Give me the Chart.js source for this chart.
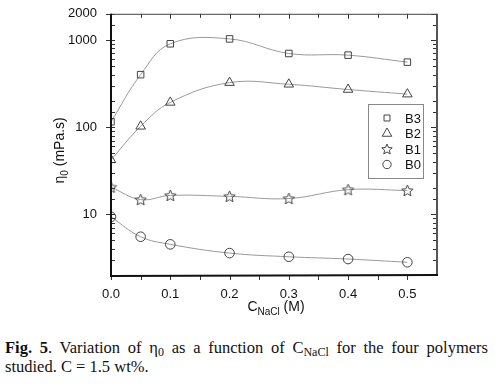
<!DOCTYPE html>
<html>
<head>
<meta charset="utf-8">
<script src="https://cdn.jsdelivr.net/npm/chart.js@4"></script>
<style>
  body { margin: 0; background: #fff; width: 495px; height: 386px; overflow: hidden; }
  #wrap { position: absolute; left: 0; top: 0; width: 495px; height: 320px; }
  #caption {
    position: absolute; left: 5px; top: 338px; width: 483px;
    font-family: "Liberation Serif", "Times New Roman", serif; font-size: 16.5px;
    line-height: 19px; color: #111;
  }
  #caption .l1 { text-align: justify; text-align-last: justify; white-space: nowrap; }
  #caption sub { font-size: 12px; vertical-align: -3px; line-height: 0; }
</style>
</head>
<body>
<div id="wrap"><canvas id="chart" width="495" height="320"></canvas></div>
<div id="caption"><div class="l1"><b>Fig. 5</b>. Variation of η<sub>0</sub> as a function of C<sub>NaCl</sub> for the four polymers</div><div>studied. C = 1.5 wt%.</div></div>
<script>
const conc = [0, 0.05, 0.1, 0.2, 0.3, 0.4, 0.5];
const b3 = [115, 400, 905, 1030, 700, 670, 557];
const b2 = [42, 102, 192, 324, 310, 270, 239];
const b1 = [20.4, 14.7, 16.4, 16.0, 15.1, 19.1, 18.7];
const b0 = [9.3, 5.5, 4.5, 3.57, 3.24, 3.05, 2.8];
const seriesNames = ['B3', 'B2', 'B1', 'B0'];
const xTicks = [0, 0.1, 0.2, 0.3, 0.4, 0.5];
const xMinor = [0.05, 0.15, 0.25, 0.35, 0.45];
const yLabels = [10, 100, 1000, 2000];

const markColor = '#444';
const lineColor = '#9a9a9a';

function starImage(r) {
  const c = document.createElement('canvas');
  const s = Math.ceil(r * 2 + 3);
  c.width = s; c.height = s;
  const g = c.getContext('2d');
  g.strokeStyle = markColor; g.lineWidth = 1;
  g.beginPath();
  for (let i = 0; i < 10; i++) {
    const rr = i % 2 === 0 ? r : r * 0.45;
    const a = -Math.PI / 2 + i * Math.PI / 5;
    const px = s / 2 + rr * Math.cos(a), py = s / 2 + 0.5 + rr * Math.sin(a);
    i === 0 ? g.moveTo(px, py) : g.lineTo(px, py);
  }
  g.closePath(); g.stroke();
  return c;
}
const starPlot = starImage(6);
const starLegend = starImage(5.5);

const styles = [
  { pointStyle: 'rect', radius: 4.6 },
  { pointStyle: 'triangle', radius: 5.5 },
  { pointStyle: starPlot, radius: 6 },
  { pointStyle: 'circle', radius: 4.8 }
];

function makeSet(label, values, st) {
  return {
    label,
    data: conc.map((x, i) => ({ x, y: values[i] })),
    borderColor: lineColor,
    borderWidth: 1,
    tension: 0.4,
    pointStyle: st.pointStyle,
    pointRadius: st.radius,
    pointHoverRadius: st.radius,
    pointBackgroundColor: 'rgba(0,0,0,0)',
    pointBorderColor: markColor,
    pointBorderWidth: 1,
    fill: false
  };
}

const frame = {
  id: 'frame',
  afterDraw(chart) {
    const { ctx, chartArea: a, scales: { x, y } } = chart;
    ctx.save();
    ctx.lineWidth = 1;
    ctx.strokeStyle = '#333';
    // x ticks
    xTicks.concat(xMinor).forEach(v => {
      const px = Math.round(x.getPixelForValue(v)) + 0.5;
      const major = xTicks.includes(v);
      ctx.beginPath();
      ctx.moveTo(px, a.bottom); ctx.lineTo(px, a.bottom + 5);
      ctx.moveTo(px, a.top); ctx.lineTo(px, a.top + (major ? 5 : 4));
      ctx.stroke();
    });
    // y ticks (log)
    y.ticks.forEach(t => {
      const v = t.value;
      const py = Math.round(y.getPixelForValue(v)) + 0.5;
      const major = [10, 100, 1000].includes(v) || v === 2000;
      ctx.beginPath();
      if (major) {
        ctx.moveTo(a.left - 5, py); ctx.lineTo(a.left + 4, py);
        ctx.moveTo(a.right, py); ctx.lineTo(a.right - 6, py);
      } else {
        ctx.moveTo(a.left, py); ctx.lineTo(a.left + 4, py);
        ctx.moveTo(a.right, py); ctx.lineTo(a.right - 4, py);
      }
      ctx.stroke();
    });
    // frame lines
    ctx.strokeStyle = '#444'; ctx.lineWidth = 1;
    ctx.beginPath(); ctx.moveTo(a.left, a.top + 0.5); ctx.lineTo(a.right, a.top + 0.5); ctx.stroke();
    ctx.strokeStyle = '#555'; ctx.lineWidth = 2;
    ctx.beginPath(); ctx.moveTo(a.right, a.top); ctx.lineTo(a.right, a.bottom); ctx.stroke();
    ctx.strokeStyle = '#111'; ctx.lineWidth = 2;
    ctx.beginPath(); ctx.moveTo(a.left, a.top); ctx.lineTo(a.left, a.bottom + 1); ctx.lineTo(a.right + 1, a.bottom); ctx.stroke();

    // axis titles with subscripts
    ctx.fillStyle = '#111';
    ctx.textBaseline = 'alphabetic';
    const font = s => s + 'px "Liberation Sans", Arial, sans-serif';
    // x title
    const xc = (a.left + a.right) / 2 + 2;
    const base = a.bottom + 36;
    const p1 = 'C', p3 = ' (M)';
    ctx.font = font(10); const wSub = ctx.measureText('NaCl').width;
    ctx.font = font(14); const w1 = ctx.measureText(p1).width, w3 = ctx.measureText(p3).width;
    let sx = xc - (w1 + wSub + w3) / 2;
    ctx.fillText(p1, sx, base);
    ctx.font = font(10); ctx.fillText('NaCl', sx + w1, base + 4);
    ctx.font = font(14); ctx.fillText(p3, sx + w1 + wSub, base);
    // y title
    ctx.save();
    ctx.translate(64, (a.top + a.bottom) / 2 + 6);
    ctx.rotate(-Math.PI / 2);
    ctx.font = font(14); const e1 = ctx.measureText('η').width;
    ctx.font = font(10); const e2 = ctx.measureText('0').width;
    ctx.font = font(14); const e3 = ctx.measureText(' (mPa.s)').width;
    sx = -(e1 + e2 + e3) / 2;
    ctx.fillText('η', sx, 0);
    ctx.font = font(10); ctx.fillText('0', sx + e1, 4);
    ctx.font = font(14); ctx.fillText(' (mPa.s)', sx + e1 + e2, 0);
    ctx.restore();

    // legend box
    const bx = 368.5, by = 104.5, bw = 55, bh = 74;
    ctx.strokeStyle = '#888'; ctx.lineWidth = 1;
    ctx.strokeRect(bx, by, bw, bh);
    const rows = [118, 133.5, 149, 164.5];
    const legendStyles = [
      { s: 'rect', r: 4.2 }, { s: 'triangle', r: 5.5 }, { s: starLegend, r: 5 }, { s: 'circle', r: 4.2 }
    ];
    ctx.font = font(13);
    ctx.textBaseline = 'middle';
    seriesNames.forEach((n, i) => {
      ctx.strokeStyle = markColor; ctx.fillStyle = 'rgba(0,0,0,0)'; ctx.lineWidth = 1;
      Chart.helpers.drawPoint(ctx, { pointStyle: legendStyles[i].s, radius: legendStyles[i].r, borderWidth: 1, rotation: 0 }, 387, rows[i]);
      ctx.fillStyle = '#111';
      ctx.fillText(n, 405, rows[i] + 1);
    });
    ctx.restore();
  }
};

new Chart(document.getElementById('chart'), {
  type: 'line',
  data: {
    datasets: [
      makeSet('B3', b3, styles[0]),
      makeSet('B2', b2, styles[1]),
      makeSet('B1', b1, styles[2]),
      makeSet('B0', b0, styles[3])
    ]
  },
  options: {
    responsive: false,
    animation: false,
    layout: { padding: { left: 0, right: 58, top: 12, bottom: 0 } },
    plugins: { legend: { display: false }, tooltip: { enabled: false } },
    scales: {
      x: {
        type: 'linear', min: 0, max: 0.55,
        afterBuildTicks: s => { s.ticks = xTicks.map(v => ({ value: v })); },
        afterFit: s => { s.height = 45; },
        grid: { display: false },
        border: { display: false },
        ticks: {
          padding: 4, color: '#111',
          font: { family: '"Liberation Sans", Arial, sans-serif', size: 13 },
          callback: v => v.toFixed(1), maxRotation: 0, autoSkip: false
        }
      },
      y: {
        type: 'logarithmic', min: 2, max: 2000,
        afterFit: s => { s.width = 111; },
        grid: { display: false },
        border: { display: false },
        ticks: {
          padding: 6, color: '#111', autoSkip: false,
          font: { family: '"Liberation Sans", Arial, sans-serif', size: 13 },
          callback: v => yLabels.includes(v) ? String(v) : ''
        }
      }
    }
  },
  plugins: [frame]
});
</script>
</body>
</html>
